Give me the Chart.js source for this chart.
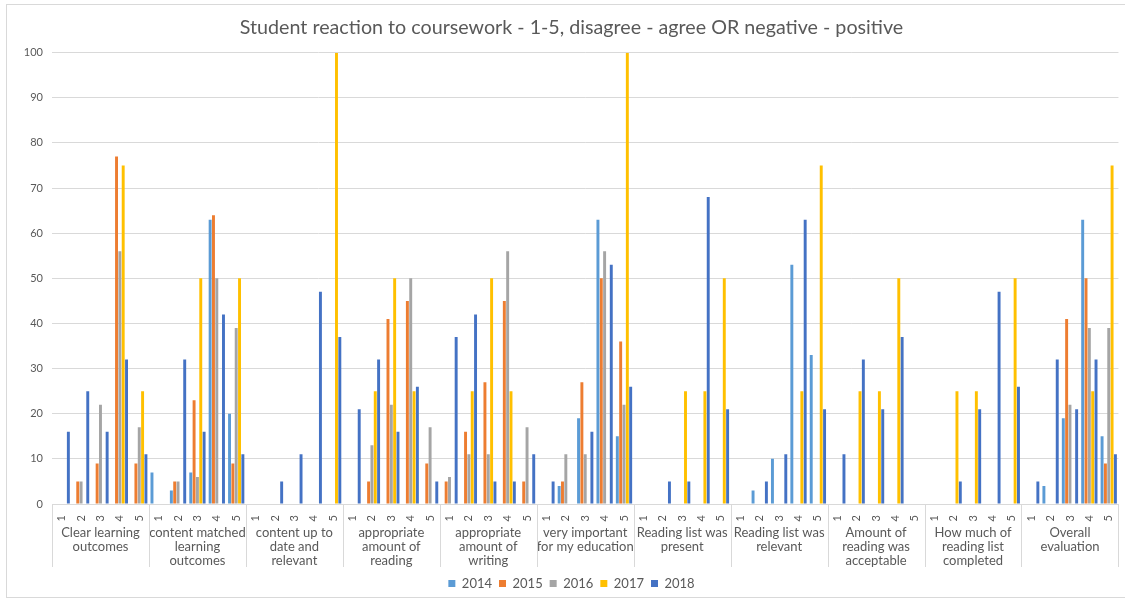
<!DOCTYPE html>
<html>
<head>
<meta charset="utf-8">
<title>Student reaction to coursework</title>
<script src="https://cdn.jsdelivr.net/npm/chart.js@4/dist/chart.umd.min.js"></script>
<style>
  html, body { margin: 0; padding: 0; background: #ffffff; }
  #wrap { width: 1125px; height: 600px; position: relative; }
</style>
</head>
<body>
<div id="wrap"><canvas id="chart"></canvas></div>
<script>
// Survey questions (wrapped into lines as shown under the axis)
const questions = [
  ['Clear learning', 'outcomes'],
  ['content matched', 'learning', 'outcomes'],
  ['content up to', 'date and', 'relevant'],
  ['appropriate', 'amount of', 'reading'],
  ['appropriate', 'amount of', 'writing'],
  ['very important', 'for my education'],
  ['Reading list was', 'present'],
  ['Reading list was', 'relevant'],
  ['Amount of', 'reading was', 'acceptable'],
  ['How much of', 'reading list', 'completed'],
  ['Overall', 'evaluation']
];

// Rating scale used for every question
const ratings = ['1', '2', '3', '4', '5'];

// Survey years
const years = ['2014', '2015', '2016', '2017', '2018'];

// Percentage of responses per question and rating (5 ratings per question)
const y2014 = [
  0, 0, 0, 0, 0,     7, 3, 7, 63, 20,    0, 0, 0, 0, 0,     0, 0, 0, 0, 0,
  0, 0, 0, 0, 0,     0, 4, 19, 63, 15,   0, 0, 0, 0, 0,     0, 3, 10, 53, 33,
  0, 0, 0, 0, 0,     0, 0, 0, 0, 0,     0, 4, 19, 63, 15
];
const y2015 = [
  0, 5, 9, 77, 9,    0, 5, 23, 64, 9,    0, 0, 0, 0, 0,     0, 5, 41, 45, 9,
  5, 16, 27, 45, 5,  0, 5, 27, 50, 36,   0, 0, 0, 0, 0,     0, 0, 0, 0, 0,
  0, 0, 0, 0, 0,     0, 0, 0, 0, 0,     0, 0, 41, 50, 9
];
const y2016 = [
  0, 5, 22, 56, 17,  0, 5, 6, 50, 39,    0, 0, 0, 0, 0,     0, 13, 22, 50, 17,
  6, 11, 11, 56, 17, 0, 11, 11, 56, 22,  0, 0, 0, 0, 0,     0, 0, 0, 0, 0,
  0, 0, 0, 0, 0,     0, 0, 0, 0, 0,     0, 0, 22, 39, 39
];
const y2017 = [
  0, 0, 0, 75, 25,   0, 0, 50, 0, 50,    0, 0, 0, 0, 100,   0, 25, 50, 25, 0,
  0, 25, 50, 25, 0,  0, 0, 0, 0, 100,    0, 0, 25, 25, 50,  0, 0, 0, 25, 75,
  0, 25, 25, 50, 0,  0, 25, 25, 0, 50,  0, 0, 0, 25, 75
];
const y2018 = [
  16, 25, 16, 32, 11, 0, 32, 16, 42, 11, 0, 5, 11, 47, 37,  21, 32, 16, 26, 5,
  37, 42, 5, 5, 11,   5, 0, 16, 53, 26,  0, 5, 5, 68, 21,   0, 5, 11, 63, 21,
  11, 32, 21, 37, 0,  0, 5, 21, 47, 26, 5, 32, 21, 32, 11
];

// Y axis range
const yMin = 0, yMax = 100, yStep = 10;

// ---- drawing ----
const seriesValues = [y2014, y2015, y2016, y2017, y2018];
const palette = ['#5B9BD5', '#ED7D31', '#A5A5A5', '#FFC000', '#4472C4'];
const textColor = '#595959';
const lineColor = '#d9d9d9';
const family = 'Lato, "Open Sans", sans-serif';

const categoryLabels = [];
questions.forEach(() => ratings.forEach(r => categoryLabels.push(r)));

// Outer frame plus the vertical separators between question groups
const framePlugin = {
  id: 'framePlugin',
  beforeDraw(chart) {
    const c = chart.ctx;
    c.save();
    c.fillStyle = '#ffffff';
    c.fillRect(0, 0, chart.width, chart.height);
    c.strokeStyle = lineColor;
    c.lineWidth = 1;
    c.strokeRect(6.5, 4.5, chart.width, chart.height - 7);
    c.restore();
  },
  afterDraw(chart) {
    const x = chart.scales.x;
    const c = chart.ctx;
    c.save();
    c.strokeStyle = lineColor;
    c.lineWidth = 1;
    for (let g = 0; g <= questions.length; g++) {
      const px = Math.round(x.getPixelForValue(g * ratings.length - 0.5)) + 0.5;
      c.beginPath();
      c.moveTo(px, x.top);
      c.lineTo(px, x.top + 63);
      c.stroke();
    }
    c.restore();
  }
};

new Chart(document.getElementById('chart'), {
  type: 'bar',
  data: {
    labels: categoryLabels,
    datasets: years.map((yr, i) => ({
      label: yr,
      data: seriesValues[i],
      backgroundColor: palette[i],
      borderWidth: 0,
      categoryPercentage: 0.86,
      barPercentage: 0.88
    }))
  },
  options: {
    responsive: true,
    maintainAspectRatio: false,
    animation: false,
    devicePixelRatio: 1,
    layout: { padding: { left: 24, right: 6, top: 0, bottom: 0 } },
    plugins: {
      title: {
        display: true,
        text: 'Student reaction to coursework - 1-5, disagree - agree OR negative - positive',
        color: textColor,
        font: { family, size: 19.7, weight: 'normal' },
        padding: { top: 16, bottom: 13 }
      },
      legend: {
        position: 'bottom',
        labels: {
          color: textColor,
          font: { family, size: 13 },
          boxWidth: 7,
          boxHeight: 7,
          padding: 7
        }
      },
      tooltip: { enabled: false }
    },
    scales: {
      x: {
        type: 'category',
        position: 'bottom',
        grid: { display: false },
        border: { display: true, color: lineColor },
        ticks: {
          color: textColor,
          font: { family, size: 11 },
          minRotation: 90,
          maxRotation: 90,
          autoSkip: false,
          padding: 3
        },
        afterFit(s) { s.height = 22; }
      },
      x2: {
        type: 'category',
        position: 'bottom',
        weight: 1,
        labels: questions,
        offset: true,
        grid: { display: false },
        border: { display: false },
        ticks: {
          color: textColor,
          font: { family, size: 13, lineHeight: 1.08 },
          maxRotation: 0,
          minRotation: 0,
          autoSkip: false,
          padding: -8
        },
        afterFit(s) { s.height = 44; }
      },
      y: {
        min: yMin,
        max: yMax,
        grid: { color: lineColor, drawTicks: false },
        border: { display: false },
        ticks: {
          stepSize: yStep,
          color: textColor,
          font: { family, size: 11 },
          padding: 9
        },
        afterFit(s) { s.width = 28; }
      }
    }
  },
  plugins: [framePlugin]
});
</script>
</body>
</html>
